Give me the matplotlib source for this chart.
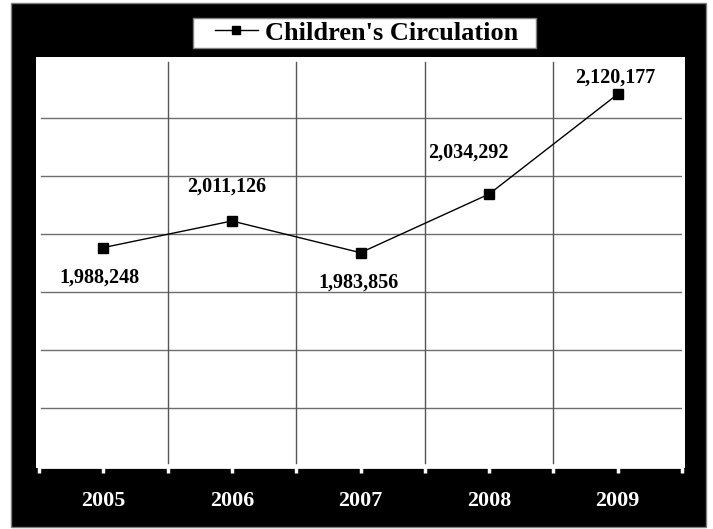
import matplotlib
matplotlib.use("Agg")
import matplotlib.pyplot as plt
from matplotlib.patches import Rectangle

years = ["2005", "2006", "2007", "2008", "2009"]
circulation = [1988248, 2011126, 1983856, 2034292, 2120177]
series_name = "Children's Circulation"
y_min, y_max, y_step = 1800000, 2150000, 50000

# label offsets (points): (dx, dy)
label_offsets = [(-2.5, -21.5), (-4, 24.5), (-1.5, -21.5), (-15, 30), (-1.5, 12)]

plt.rcParams['font.family'] = ['Liberation Serif', 'DejaVu Serif']
W, H = 713, 529
fig = plt.figure(figsize=(W / 100, H / 100), dpi=100, facecolor='white')

def fx(px):
    return px / W

def fy(py):
    return 1 - py / H

# black background panel
fig.patches.append(Rectangle((fx(11), fy(527)), fx(706) - fx(11), fy(3) - fy(527),
                             transform=fig.transFigure, facecolor='black',
                             edgecolor='#7f7f7f', linewidth=1, zorder=-2))
# white plot area
fig.patches.append(Rectangle((fx(36), fy(468)), fx(685) - fx(36), fy(57) - fy(468),
                             transform=fig.transFigure, facecolor='white',
                             edgecolor='none', zorder=-1))
# legend box
fig.patches.append(Rectangle((fx(193), fy(48)), fx(536) - fx(193), fy(18) - fy(48),
                             transform=fig.transFigure, facecolor='white',
                             edgecolor='#7f7f7f', linewidth=1, zorder=-1))

ax = fig.add_axes([fx(39), fy(466.5), fx(682) - fx(39), fy(59.5) - fy(466.5)])
ax.set_facecolor('white')
ax.set_xlim(-0.5, len(years) - 0.5)
ax.set_ylim(y_min, y_max)

# horizontal gridlines
for v in range(y_min + y_step, y_max, y_step):
    ax.axhline(v, xmin=2 / 643, xmax=1, color='#6e6e6e', lw=1, zorder=1)
# vertical gridlines at category boundaries
for b in range(1, len(years)):
    ax.axvline(b - 0.5, ymin=3.5 / 407, ymax=1 - 2.5 / 407, color='#555555', lw=1, zorder=1)

x = list(range(len(years)))
ax.plot(x, circulation, color='black', lw=1, marker='s', markersize=7.3,
        markerfacecolor='black', markeredgecolor='black', label=series_name, zorder=3)

for xi, v, (dx, dy) in zip(x, circulation, label_offsets):
    ax.annotate(f"{v:,}", (xi, v), xytext=(dx, dy), textcoords='offset points',
                ha='center', va='center', fontsize=14.5, fontweight='bold', color='black')

ax.set_yticks([])
ax.set_xticks(x)
ax.set_xticklabels(years, fontsize=15.8, fontweight='bold', color='white')
ax.set_xticks([b - 0.5 for b in range(len(years) + 1)], minor=True)
ax.tick_params(axis='x', which='both', colors='white', direction='out', length=4, width=2.5)
ax.tick_params(axis='x', which='major', pad=14, labelcolor='white')
for s in ['top', 'left', 'right']:
    ax.spines[s].set_visible(False)
ax.spines['bottom'].set_color('white')
ax.spines['bottom'].set_linewidth(2)

leg = fig.legend(loc='center', bbox_to_anchor=(fx(367), fy(33)),
                 prop={'weight': 'bold', 'size': 19}, frameon=False,
                 handlelength=1.6, handletextpad=0.3, borderpad=0, borderaxespad=0,
                 markerscale=0.85)

fig.savefig('out.png', dpi=100, facecolor='white')
